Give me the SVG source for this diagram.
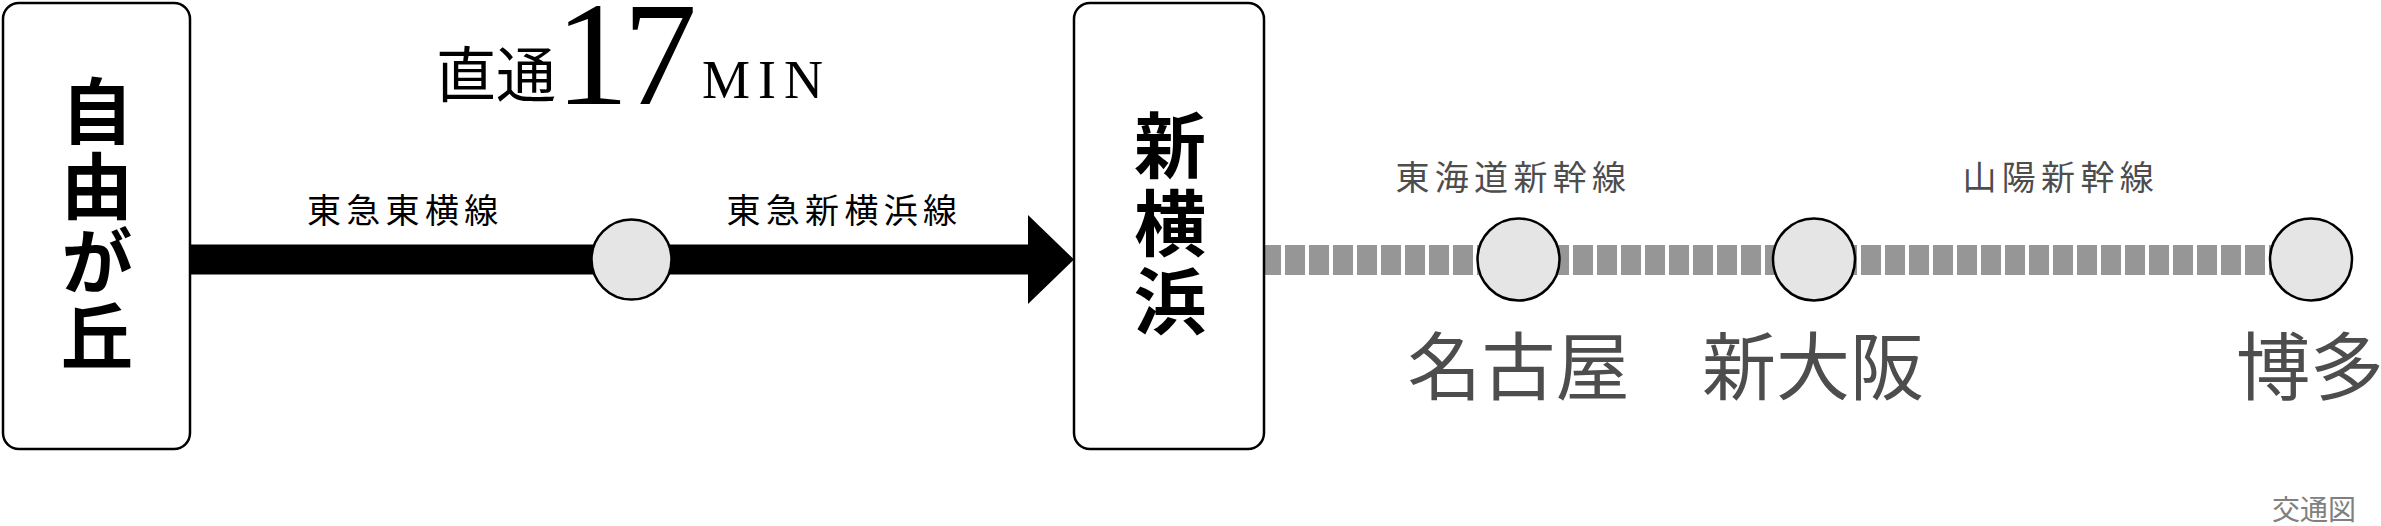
<svg xmlns="http://www.w3.org/2000/svg" width="2381" height="526" viewBox="0 0 2381 526">
<style>
.box{fill:#fff;stroke:#000;stroke-width:2.5}
.stn{fill:#e5e5e5;stroke:#000;stroke-width:2.5}
.big{font-family:"Noto Sans CJK JP","Noto Sans CJK SC",sans-serif;font-size:72px;font-weight:700;fill:#000;writing-mode:vertical-rl}
.lbl{font-family:"Noto Sans CJK JP","Noto Sans CJK SC",sans-serif;font-size:34px;letter-spacing:5.3px}
.far{font-family:"Noto Sans CJK JP","Noto Sans CJK SC",sans-serif;font-size:74px;fill:#4d4d4d}
</style>
<rect width="2381" height="526" fill="#fff"/>
<g id="connectors">
<rect x="189" y="244.5" width="840" height="30" fill="#000"/>
<polygon points="1028,215 1074,259.5 1028,304" fill="#000"/>
<line x1="1261" y1="260" x2="2311" y2="260" stroke="#969696" stroke-width="30" stroke-dasharray="20 4"/>
</g>
<g id="title">
<text x="436" y="97" font-family="Noto Sans CJK JP,sans-serif" font-size="60" fill="#000">直通</text>
<text x="555" y="104" font-family="Liberation Serif,serif" font-size="148" letter-spacing="-6" fill="#000">17</text>
<text x="702" y="98" font-family="Liberation Serif,serif" font-size="54" letter-spacing="8" fill="#000">MIN</text>
</g>
<g id="node-jiyugaoka">
<rect class="box" x="3" y="3" width="187" height="446" rx="16"/>
<text class="big" x="97" y="75" letter-spacing="3">自由が丘</text>
</g>
<g id="label-toyoko">
<text class="lbl" x="307" y="223" fill="#000">東急東横線</text>
</g>
<g id="node-transfer">
<circle class="stn" cx="631.5" cy="259.5" r="40"/>
</g>
<g id="label-shinyokohama-line">
<text class="lbl" x="726.5" y="223" fill="#000">東急新横浜線</text>
</g>
<g id="node-shinyokohama">
<rect class="box" x="1074" y="3" width="190" height="446" rx="16"/>
<text class="big" x="1170" y="109" letter-spacing="6">新横浜</text>
</g>
<g id="label-tokaido">
<text class="lbl" x="1395.5" y="190" fill="#4d4d4d">東海道新幹線</text>
</g>
<g id="label-sanyo">
<text class="lbl" x="1962.5" y="190" fill="#4d4d4d">山陽新幹線</text>
</g>
<g id="node-nagoya">
<circle class="stn" cx="1518.5" cy="259.5" r="41"/>
<text class="far" x="1518.5" y="394" text-anchor="middle">名古屋</text>
</g>
<g id="node-shinosaka">
<circle class="stn" cx="1814" cy="259.5" r="41"/>
<text class="far" x="1813" y="394" text-anchor="middle">新大阪</text>
</g>
<g id="node-hakata">
<circle class="stn" cx="2311" cy="259.5" r="41"/>
<text class="far" x="2310" y="394" text-anchor="middle">博多</text>
</g>
<text x="2314" y="520" text-anchor="middle" font-family="Noto Sans CJK JP,sans-serif" font-size="28" fill="#808080">交通図</text>
</svg>
